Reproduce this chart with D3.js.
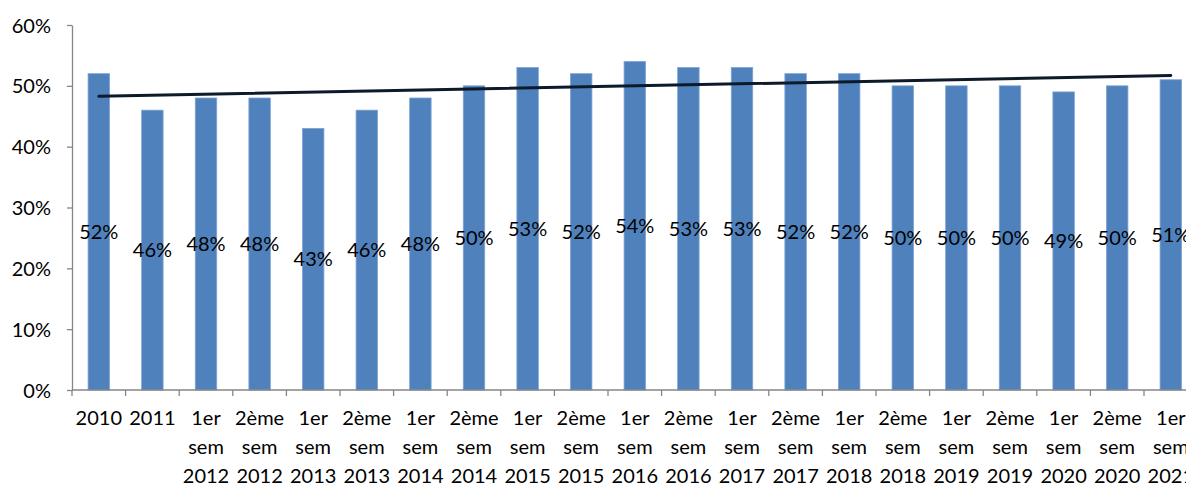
<!DOCTYPE html>
<html>
<head>
<meta charset="utf-8">
<script src="https://cdn.jsdelivr.net/npm/d3@7"></script>
<style>
  body { margin: 0; background: #fff; overflow: hidden; }
  text { font-family: Lato, "Open Sans", sans-serif; fill: #000; }
</style>
</head>
<body>
<div id="chart"></div>
<script>
// categories (each label split in lines)
const categories = [
    ["2010"], ["2011"],
    ["1er", "sem", "2012"], ["2ème", "sem", "2012"],
    ["1er", "sem", "2013"], ["2ème", "sem", "2013"],
    ["1er", "sem", "2014"], ["2ème", "sem", "2014"],
    ["1er", "sem", "2015"], ["2ème", "sem", "2015"],
    ["1er", "sem", "2016"], ["2ème", "sem", "2016"],
    ["1er", "sem", "2017"], ["2ème", "sem", "2017"],
    ["1er", "sem", "2018"], ["2ème", "sem", "2018"],
    ["1er", "sem", "2019"], ["2ème", "sem", "2019"],
    ["1er", "sem", "2020"], ["2ème", "sem", "2020"],
    ["1er", "sem", "2021"]
];
const values = [52, 46, 48, 48, 43, 46, 48, 50, 53, 52, 54, 53, 53, 52, 52, 50, 50, 50, 49, 50, 51];
// linear trend line, start and end value (%)
const trend = [48.3, 51.7];
const yTicks = [0, 10, 20, 30, 40, 50, 60];

function main() {
    const W = 1186, H = 486;
    const left = 72, top = 25, bottom = 390;
    const band = 53.6;

    const svg = d3.select("#chart").append("svg")
        .attr("width", W)
        .attr("height", H);

    const keys = categories.map((c, i) => i);

    const x = d3.scaleBand()
        .domain(keys)
        .range([left, left + band * categories.length])
        .paddingInner(0.6)
        .paddingOuter(0.3);

    const y = d3.scaleLinear()
        .domain([0, 60])
        .range([bottom, top]);

    const axisColor = "#868686";

    // y axis
    const yAxis = svg.append("g")
        .attr("transform", "translate(" + left + ",0)")
        .call(d3.axisLeft(y).tickValues(yTicks).tickSize(5).tickSizeOuter(0).tickFormat(d => d + "%"));
    yAxis.select(".domain").attr("stroke", axisColor).attr("stroke-width", 1.3);
    yAxis.selectAll(".tick line").attr("stroke", axisColor).attr("stroke-width", 1.3);
    yAxis.selectAll(".tick text")
        .attr("x", -21)
        .attr("dy", "0.35em")
        .style("font-size", "20px")
        .style("font-family", "Lato, sans-serif")
        .attr("fill", "#000");

    // bars
    svg.append("g").selectAll("rect")
        .data(values)
        .join("rect")
        .attr("x", (d, i) => x(i))
        .attr("y", d => y(d))
        .attr("width", x.bandwidth())
        .attr("height", d => bottom - y(d))
        .attr("fill", "#4f81bd")
        .attr("stroke", "#7ea3d2")
        .attr("stroke-width", 0.8);

    // x axis line + ticks at band boundaries
    const xg = svg.append("g");
    xg.append("line")
        .attr("x1", left).attr("x2", W)
        .attr("y1", bottom).attr("y2", bottom)
        .attr("stroke", axisColor).attr("stroke-width", 1.3);
    xg.selectAll("line.tk")
        .data(d3.range(categories.length + 1))
        .join("line")
        .attr("class", "tk")
        .attr("x1", i => left + i * band).attr("x2", i => left + i * band)
        .attr("y1", bottom).attr("y2", bottom + 6)
        .attr("stroke", axisColor).attr("stroke-width", 1.3);

    // x labels
    const xl = xg.selectAll("text")
        .data(categories)
        .join("text")
        .attr("text-anchor", "middle")
        .attr("x", (d, i) => x(i) + x.bandwidth() / 2)
        .attr("y", 425)
        .style("font-size", "20px");
    xl.selectAll("tspan")
        .data(d => d)
        .join("tspan")
        .attr("x", function () { return d3.select(this.parentNode).attr("x"); })
        .attr("dy", (d, i) => i === 0 ? 0 : 29)
        .text(d => d);

    // trend line
    svg.append("line")
        .attr("x1", x(0) + x.bandwidth() / 2)
        .attr("x2", x(values.length - 1) + x.bandwidth() / 2)
        .attr("y1", y(trend[0]))
        .attr("y2", y(trend[1]))
        .attr("stroke", "#0d1a2a")
        .attr("stroke-width", 3)
        .attr("stroke-linecap", "round");

    // value labels at middle of bars
    svg.append("g").selectAll("text")
        .data(values)
        .join("text")
        .attr("text-anchor", "middle")
        .attr("x", (d, i) => x(i) + x.bandwidth() / 2)
        .attr("y", d => y(d / 2))
        .attr("dy", "0.35em")
        .style("font-size", "20px")
        .text(d => d + "%");
}
main();
</script>
</body>
</html>
